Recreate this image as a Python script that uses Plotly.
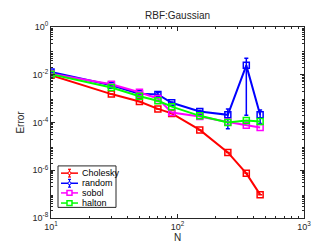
import plotly.graph_objects as go

N = [10, 30, 50, 70, 90, 150, 250, 350, 450]
chol = [9.5e-3, 1.55e-3, 7.6e-4, 3.7e-4, 2.4e-4, 4.9e-5, 5.6e-6, 7.4e-7, 9.5e-8]
chol_err = [0, 0, 0, 0, 0, 0, 0, 0, 0]
rand = [1.3e-2, 3.6e-3, 1.6e-3, 1.5e-3, 6.7e-4, 2.9e-4, 2.1e-4, 2.47e-2, 2.1e-4]
rand_err = [1.5e-3, 3e-4, 1e-4, 3e-4, 6e-5, 3e-5, 1.55e-4, 2.45e-2, 1.2e-4]
sobol = [1.1e-2, 4.0e-3, 1.85e-3, 1.0e-3, 2.6e-4, 1.8e-4, 1.05e-4, 7.6e-5, 6.2e-5]
halton = [1.05e-2, 2.9e-3, 1.25e-3, 8.1e-4, 4.6e-4, 1.9e-4, 1.0e-4, 1.2e-4, 1.1e-4]

names = ["Cholesky", "random", "sobol", "halton"]
colors = ["#ff0000", "#0000ff", "#ff00ff", "#00ff00"]

xticks = [10, 100, 1000]
xticktext = ["10<sup>1</sup>", "10<sup>2</sup>", "10<sup>3</sup>"]
yticks = [1e-8, 1e-6, 1e-4, 1e-2, 1]
yticktext = ["10<sup>-8</sup>", "10<sup>-6</sup>", "10<sup>-4</sup>", "10<sup>-2</sup>", "10<sup>0</sup>"]

W, H = 327, 245
ML, MR, MT, MB = 43, 31, 19, 28
PW, PH = W - ML - MR, H - MT - MB


def px2x(px):
    return (px - ML) / PW


def px2y(py):
    return (H - MB - py) / PH


fig = go.Figure()


def add(name, y, color, err=None):
    kw = {}
    if err is not None:
        kw["error_y"] = dict(type="data", array=err, color=color, thickness=1.5, width=2)
    fig.add_trace(go.Scatter(
        x=N, y=y, name=name, mode="lines+markers", showlegend=False,
        line=dict(color=color, width=2),
        marker=dict(symbol="square-open", size=6, color=color, line=dict(width=1.5, color=color)),
        **kw))


add(names[0], chol, colors[0], chol_err)
add(names[1], rand, colors[1], rand_err)
add(names[2], sobol, colors[2])
add(names[3], halton, colors[3])

minor_x = [v * d for d in [10, 100] for v in range(2, 10)]
minor_y = [v * 10.0 ** e for e in range(-8, 0) for v in range(2, 10)]

axis_common = dict(
    type="log", showgrid=False, zeroline=False, mirror="ticks", showline=True,
    linecolor="#262626", linewidth=1, ticks="inside", ticklen=4, tickcolor="#262626",
    tickfont=dict(size=9, color="#262626"),
)
fig.update_xaxes(**axis_common, range=[1, 3], tickvals=xticks, ticktext=xticktext,
                 minor=dict(tickvals=minor_x, ticks="inside", ticklen=2, tickcolor="#262626"),
                 title=dict(text="N", font=dict(size=10, color="#262626"), standoff=2))
fig.update_yaxes(**axis_common, range=[-8, 0], tickvals=yticks, ticktext=yticktext,
                 minor=dict(tickvals=minor_y, ticks="inside", ticklen=2, tickcolor="#262626"),
                 title=dict(text="Error", font=dict(size=10, color="#262626"), standoff=6))

# custom compact legend (layout decoration)
shapes = []
annotations = []
bx0, bx1, by0, by1 = 50, 108, 163, 206
shapes.append(dict(type="rect", xref="paper", yref="paper",
                   x0=px2x(bx0), x1=px2x(bx1), y0=px2y(by1), y1=px2y(by0),
                   line=dict(color="#262626", width=1), fillcolor="white", layer="above"))
rows = [170.5, 181, 191, 201.5]
lx0, lx1, lxc = 53, 70, 61.5
for i, (nm, col) in enumerate(zip(names, colors)):
    ry = rows[i]
    shapes.append(dict(type="line", xref="paper", yref="paper",
                       x0=px2x(lx0), x1=px2x(lx1), y0=px2y(ry), y1=px2y(ry),
                       line=dict(color=col, width=1.5), layer="above"))
    if i < 2:
        # error bar glyph
        shapes.append(dict(type="line", xref="paper", yref="paper",
                           x0=px2x(lxc), x1=px2x(lxc), y0=px2y(ry - 4), y1=px2y(ry + 4),
                           line=dict(color=col, width=1.2), layer="above"))
        for dy in (-4, 4):
            shapes.append(dict(type="line", xref="paper", yref="paper",
                               x0=px2x(lxc - 1.5), x1=px2x(lxc + 1.5), y0=px2y(ry + dy), y1=px2y(ry + dy),
                               line=dict(color=col, width=1.2), layer="above"))
        shapes.append(dict(type="circle", xref="paper", yref="paper",
                           x0=px2x(lxc - 1.5), x1=px2x(lxc + 1.5), y0=px2y(ry + 1.5), y1=px2y(ry - 1.5),
                           line=dict(color=col, width=1), fillcolor="white", layer="above"))
    else:
        shapes.append(dict(type="rect", xref="paper", yref="paper",
                           x0=px2x(lxc - 2.5), x1=px2x(lxc + 2.5), y0=px2y(ry + 2.5), y1=px2y(ry - 2.5),
                           line=dict(color=col, width=1.5), fillcolor="white", layer="above"))
    annotations.append(dict(text=nm, xref="paper", yref="paper", x=px2x(71.5), y=px2y(ry),
                            xanchor="left", yanchor="middle", showarrow=False,
                            font=dict(size=9, color="#000000")))

fig.update_layout(
    width=W, height=H,
    margin=dict(l=ML, r=MR, t=MT, b=MB),
    paper_bgcolor="white", plot_bgcolor="white",
    font=dict(family="Liberation Sans, Arial, sans-serif", size=9, color="#262626"),
    title=dict(text="RBF:Gaussian", x=0.5, xref="paper", y=0.985, yanchor="top",
               font=dict(size=10, color="#262626")),
    shapes=shapes, annotations=annotations,
    showlegend=False,
)

fig.write_html("out.html")
